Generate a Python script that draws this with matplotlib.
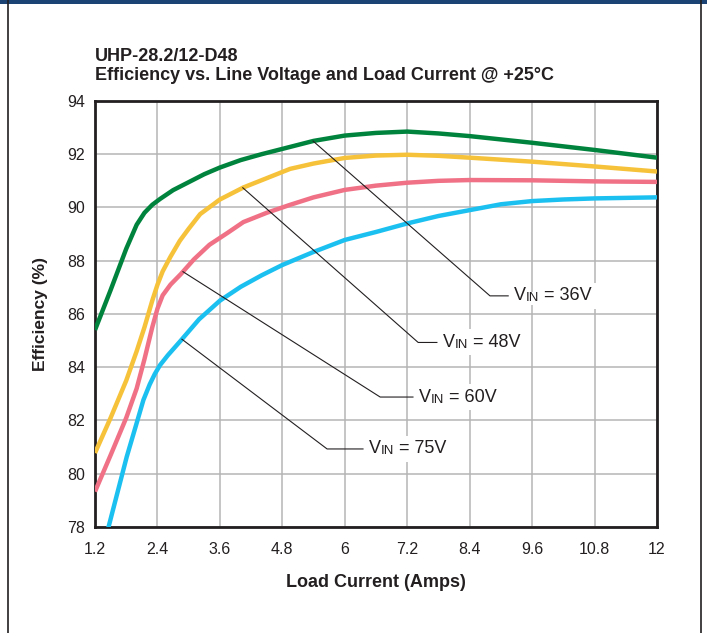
import matplotlib
matplotlib.use('Agg')
import matplotlib.pyplot as plt
from matplotlib.lines import Line2D
from matplotlib.patches import Rectangle
import numpy as np

plt.rcParams['font.family'] = ['Liberation Sans', 'DejaVu Sans']

# efficiency curves
x36 = [1.2, 1.5, 1.8, 2.0, 2.15, 2.3, 2.45, 2.7, 3.0, 3.3, 3.6, 4.0, 4.4, 4.8, 5.4, 6.0, 6.6,
       7.2, 7.8, 8.4, 9.6, 10.8, 12.0]
y36 = [85.4, 86.9, 88.45, 89.35, 89.8, 90.1, 90.32, 90.65, 90.95, 91.25, 91.5, 91.78, 92.0,
       92.2, 92.5, 92.7, 92.8, 92.85, 92.78, 92.68, 92.43, 92.16, 91.87]

x48 = [1.2, 1.5, 1.8, 2.0, 2.15, 2.3, 2.4, 2.5, 2.65, 2.83, 3.0, 3.22, 3.6, 4.05, 4.5, 4.95,
       5.4, 6.0, 6.6, 7.2, 7.8, 8.4, 9.6, 10.8, 12.0]
y48 = [80.78, 82.1, 83.5, 84.6, 85.5, 86.5, 87.1, 87.6, 88.15, 88.75, 89.2, 89.75, 90.3,
       90.75, 91.1, 91.45, 91.65, 91.86, 91.95, 91.98, 91.94, 91.87, 91.72, 91.54, 91.35]

x60 = [1.2, 1.5, 1.8, 2.0, 2.15, 2.3, 2.4, 2.5, 2.65, 2.85, 3.1, 3.4, 3.75, 4.05, 4.5, 4.95,
       5.4, 6.0, 6.6, 7.2, 7.8, 8.4, 9.6, 10.8, 12.0]
y60 = [79.33, 80.7, 82.1, 83.2, 84.3, 85.5, 86.2, 86.7, 87.1, 87.5, 88.05, 88.6, 89.05,
       89.45, 89.8, 90.1, 90.38, 90.66, 90.82, 90.93, 91.0, 91.03, 91.02, 90.98, 90.96]

x75 = [1.3, 1.46, 1.81, 2.0, 2.13, 2.25, 2.35, 2.45, 2.6, 2.83, 3.2, 3.6, 4.0, 4.4, 4.8, 5.4,
       6.0, 6.6, 7.2, 7.8, 8.4, 9.0, 9.6, 10.2, 10.8, 12.0]
y75 = [77.3, 78.0, 80.64, 81.9, 82.77, 83.35, 83.75, 84.08, 84.45, 84.96, 85.8, 86.5, 87.02,
       87.45, 87.84, 88.33, 88.78, 89.08, 89.4, 89.68, 89.9, 90.12, 90.24, 90.3, 90.34, 90.38]

labels = ['36V', '48V', '60V', '75V']
colors = ['#00843d', '#f6c23a', '#f07186', '#1cc0f0']

xticks = [1.2, 2.4, 3.6, 4.8, 6, 7.2, 8.4, 9.6, 10.8, 12]
xticklabels = ['1.2', '2.4', '3.6', '4.8', '6', '7.2', '8.4', '9.6', '10.8', '12']
yticks = [78, 80, 82, 84, 86, 88, 90, 92, 94]

fig = plt.figure(figsize=(7.07, 6.33), dpi=100)
ax = fig.add_axes([0.1344, 0.1675, 0.7949, 0.6730])

series = [(x36, y36), (x48, y48), (x60, y60), (x75, y75)]
for (xs, ys), c in zip(series, colors):
    ax.plot(xs, ys, color=c, lw=3.2, solid_capstyle='butt', solid_joinstyle='round', zorder=3)

ax.set_xlim(1.2, 12)
ax.set_ylim(78, 94)
ax.set_xticks(xticks)
ax.set_xticklabels(xticklabels)
ax.set_yticks(yticks)
ax.tick_params(length=0, labelsize=11.5, colors='#231f20')
ax.tick_params(axis='x', pad=11)
ax.tick_params(axis='y', pad=7)
ax.grid(True, color='#b5b5b5', lw=1.1)
ax.set_axisbelow(True)
for s in ax.spines.values():
    s.set_color('#231f20')
    s.set_linewidth(2)

ax.set_xlabel('Load Current (Amps)', fontsize=13, fontweight='bold', labelpad=12, color='#231f20')
ax.set_ylabel('Efficiency (%)', fontsize=12.5, fontweight='bold', labelpad=14, color='#231f20')

fig.text(0.1344, 0.9036, 'UHP-28.2/12-D48', fontsize=13, fontweight='bold', va='baseline',
         color='#231f20')
fig.text(0.1344, 0.8736, 'Efficiency vs. Line Voltage and Load Current @ +25°C',
         fontsize=13, fontweight='bold', va='baseline', color='#231f20')

# leader lines: point on curve -> elbow -> label
anchors = [5.39, 4.04, 2.89, 2.87]
elbows = [(8.79, 86.68), (7.41, 84.93), (6.68, 82.88), (5.66, 80.93)]
ends = [9.14, 7.77, 7.31, 6.35]
for (xs, ys), ax_x, (ex, ey), endx, lab in zip(series, anchors, elbows, ends, labels):
    ay = np.interp(ax_x, xs, ys)
    ax.plot([ax_x, ex, endx], [ay, ey, ey], color='#231f20', lw=0.8, zorder=4)
    t1 = ax.annotate('V', xy=(endx, ey), xytext=(4, 0), textcoords='offset points',
                     va='center', ha='left', fontsize=13, color='#231f20', zorder=5,
                     bbox=dict(boxstyle='square,pad=0.25', fc='white', ec='none'))
    t2 = ax.annotate('IN', xy=(1, 0), xycoords=t1, va='bottom', ha='left',
                     fontsize=9.5, color='#231f20', zorder=7,
                     bbox=dict(boxstyle='square,pad=0.05', fc='white', ec='none'))
    ax.annotate(' = ' + lab, xy=(1, 0), xycoords=t2, va='bottom', ha='left',
                fontsize=13, color='#231f20', zorder=5,
                bbox=dict(boxstyle='square,pad=0.25', fc='white', ec='none'))

# page frame
fig.add_artist(Rectangle((0, 1 - 4 / 633), 1, 4 / 633, transform=fig.transFigure,
                         color='#1b4475', lw=0))
fig.add_artist(Line2D([8 / 707, 8 / 707], [0, 1], transform=fig.transFigure,
                      color='#231f20', lw=1.2))
fig.add_artist(Line2D([701 / 707, 701 / 707], [0, 1], transform=fig.transFigure,
                      color='#231f20', lw=1.2))

fig.savefig('out.png', dpi=100)
